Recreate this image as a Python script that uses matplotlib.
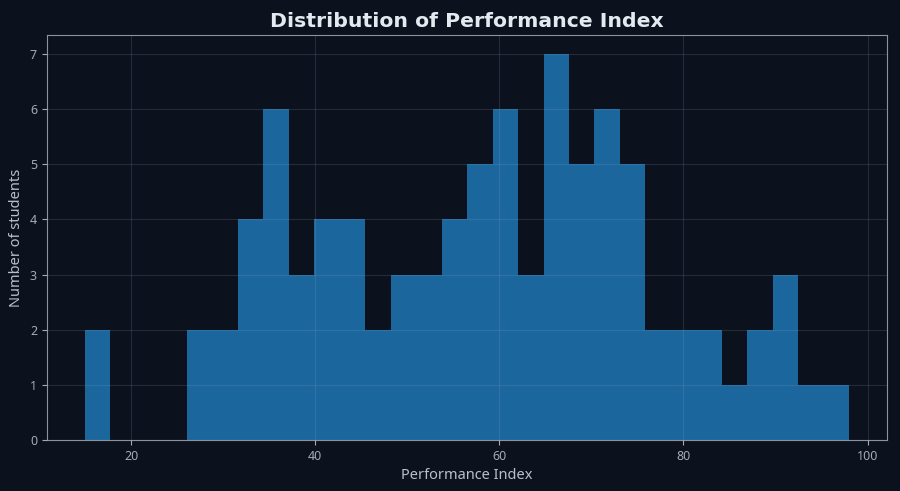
import matplotlib
matplotlib.use('Agg')
import matplotlib.pyplot as plt
import numpy as np

# histogram: 30 bins from 15 to 98
bin_start = 15
bin_end = 98
n_bins = 30
counts = [2, 0, 0, 0, 2, 2, 4, 6, 3, 4,
          4, 2, 3, 3, 4, 5, 6, 3, 7, 5,
          6, 5, 2, 2, 2, 1, 2, 3, 1, 1]

title = 'Distribution of Performance Index'
xlabel = 'Performance Index'
ylabel = 'Number of students'

bg = '#0b121d'
text_col = '#e4e9f0'
tick_col = '#a3abb6'
spine_col = '#8a939e'

plt.rcParams['font.family'] = ['Noto Sans', 'DejaVu Sans']

edges = np.linspace(bin_start, bin_end, n_bins + 1)
centers = (edges[:-1] + edges[1:]) / 2

fig, ax = plt.subplots(figsize=(9, 4.91), dpi=100)
fig.patch.set_facecolor(bg)
ax.set_facecolor(bg)

ax.hist(centers, bins=edges, weights=counts, color='#1f77b4', alpha=0.85, zorder=2)
ax.grid(True, color='#8fa3bb', alpha=0.18, linewidth=0.8, zorder=3)
ax.set_axisbelow(False)

ax.set_title(title, fontsize=14.7, fontweight='bold', color=text_col,
             family='DejaVu Sans')
ax.set_xlabel(xlabel, fontsize=10.5, color='#b8c0cb')
ax.set_ylabel(ylabel, fontsize=10.5, color='#b8c0cb')
ax.tick_params(colors=tick_col, labelsize=9)
for s in ax.spines.values():
    s.set_color(spine_col)

fig.subplots_adjust(left=0.052, right=0.986, top=0.929, bottom=0.104)
plt.savefig('out.png', dpi=100, facecolor=bg)
